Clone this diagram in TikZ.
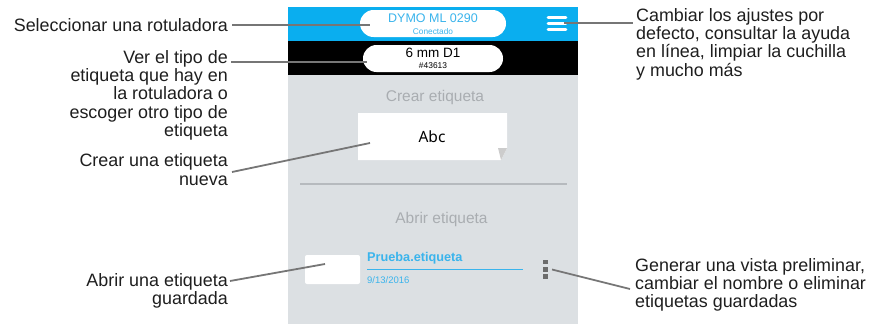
\documentclass[tikz,border=0pt]{standalone}
\usepackage{fontspec}
\setmainfont{Liberation Sans}
\newfontfamily\abcfont{Noto Sans}

\definecolor{dymoblue}{HTML}{0AAEEF}
\definecolor{pillblue}{HTML}{3AB4EC}
\definecolor{screengray}{HTML}{DCE0E3}
\definecolor{hintgray}{HTML}{A9ADB1}
\definecolor{rulegray}{HTML}{B6BABE}
\definecolor{leadergray}{HTML}{767676}
\definecolor{dotgray}{HTML}{6C6C6C}
\definecolor{notetext}{HTML}{1E1E1E}

\newcommand{\ScrL}{288}
\newcommand{\ScrR}{578}
\newcommand{\ScrC}{433}
\newcommand{\ScrT}{7}
\newcommand{\BarB}{41}
\newcommand{\TapeB}{75}
\newcommand{\NoteR}{228}
\newcommand{\NoteL}{636}

\begin{document}
\begin{tikzpicture}[x=1pt,y=-1pt,
    leader/.style={draw=leadergray, line width=1.8pt},
    note/.style={inner sep=0pt, text=notetext, align=#1, font=\fontsize{17.9}{18.3}\selectfont},
    hint/.style={inner sep=0pt, text=hintgray, font=\fontsize{15.5}{18}\selectfont},
    pill/.style={fill=white, rounded corners=13.5pt, minimum width=#1, minimum height=27pt, inner sep=0pt},
    menubar/.style={draw=white, line width=2.6pt, line cap=round}
  ]
    \useasboundingbox (0,0) rectangle (876,324);

    % screen
    \fill[screengray] (\ScrL,\TapeB) rectangle (\ScrR,324);
    \fill[dymoblue] (\ScrL,\ScrT) rectangle (\ScrR,\BarB);
    \fill[black] (\ScrL,\BarB) rectangle (\ScrR,\TapeB);

    \node[pill=146] (printer) at (\ScrC,23.5) {};
    \node[inner sep=0pt, text=pillblue, font=\fontsize{12.5}{14}\selectfont] (printername) at (\ScrC,18.5) {DYMO ML 0290};
    \node[inner sep=0pt, text=pillblue, font=\fontsize{8.3}{10}\selectfont] (printerstate) at (\ScrC,32) {Conectado};

    \foreach \y in {17.2,23.3,29.5}
        \draw[menubar] (548,\y) -- (566,\y);
    \coordinate (menu) at (564,22.7);

    \node[pill=140] (tape) at (\ScrC,58.5) {};
    \node[inner sep=0pt, font=\fontsize{13.5}{15}\selectfont] (tapename) at (\ScrC,53) {6 mm D1};
    \node[inner sep=0pt, font=\fontsize{8.4}{10}\selectfont] (tapecode) at (\ScrC,66) {\#43613};

    \node[hint, anchor=base] (newhead) at (435,101.5) {Crear etiqueta};
    \fill[white] (358,113) -- (507,113) -- (507,148) -- (501,160) -- (358,160) -- cycle;
    \fill[black!20] (498,148) -- (507,148) -- (501,160) -- cycle;
    \node[inner sep=0pt, font=\abcfont\fontsize{15.5}{17}\selectfont] (abc) at (432,136.5) {Abc};

    \draw[rulegray, line width=1.5pt] (300,184) -- (567,184);

    \node[hint, anchor=base] (openhead) at (441.5,223) {Abrir etiqueta};
    \fill[white, rounded corners=2pt] (305,255) rectangle (360,284);
    \node[inner sep=0pt, anchor=base west, text=pillblue, font=\bfseries\fontsize{12.7}{14}\selectfont] (filename) at (367,261.7) {Prueba.etiqueta};
    \draw[pillblue, line width=0.9pt] (367,269) -- (523,269);
    \node[inner sep=0pt, anchor=base west, text=pillblue, font=\fontsize{9.5}{11}\selectfont] (filedate) at (367,283.3) {9/13/2016};
    \foreach \y in {259.5,266.8,274.2}
        \fill[dotgray] (543,\y) rectangle (547.5,\y+4.8);

    % callouts
    \node[note=right, anchor=base east] (selrot) at (\NoteR,31) {Seleccionar una rotuladora};
    \node[note=right, anchor=north east] (vertipo) at (\NoteR,50.1) {Ver el tipo de\\etiqueta que hay en\\la rotuladora o\\escoger otro tipo de\\etiqueta};
    \node[note=right, anchor=north east] (crear) at (\NoteR,153.6) {Crear una etiqueta\\nueva};
    \node[note=right, anchor=north east] (abrir) at (\NoteR,273.1) {Abrir una etiqueta\\guardada};
    \node[note=left, anchor=north west] (ajustes) at (\NoteL,8.1) {Cambiar los ajustes por\\defecto, consultar la ayuda\\en línea, limpiar la cuchilla\\y mucho más};
    \node[note=left, anchor=north west] (vista) at (635,258.1) {Generar una vista preliminar,\\cambiar el nombre o eliminar\\etiquetas guardadas};

    \coordinate (selrot-e) at (232,25);
    \coordinate (printer-in) at (370,25);
    \coordinate (vertipo-e) at (231,62);
    \coordinate (tape-in) at (367,62);
    \coordinate (ajustes-w) at (633,22.7);
    \coordinate (crear-e) at (232,172);
    \coordinate (abc-in) at (370,143);
    \coordinate (abrir-e) at (230,281);
    \coordinate (thumb-in) at (325,264);
    \coordinate (dots-e) at (552,269.5);
    \coordinate (vista-w) at (630,289);

    \draw[leader] (selrot-e) -- (printer-in);
    \draw[leader] (vertipo-e) -- (tape-in);
    \draw[leader] (menu) -- (ajustes-w);
    \draw[leader] (crear-e) -- (abc-in);
    \draw[leader] (abrir-e) -- (thumb-in);
    \draw[leader] (dots-e) -- (vista-w);
\end{tikzpicture}
\end{document}
